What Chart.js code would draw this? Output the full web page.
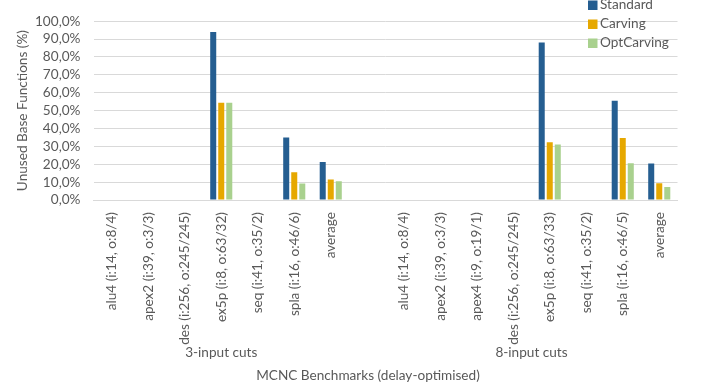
<!DOCTYPE html>
<html>
<head>
<meta charset="utf-8">
<script src="https://cdn.jsdelivr.net/npm/chart.js@4"></script>
<style>
  html, body { margin: 0; padding: 0; background: #fff; }
  #wrap { width: 702px; height: 387px; position: relative; }
</style>
</head>
<body>
<div id="wrap"><canvas id="c" width="702" height="387"></canvas></div>
<script>
// Benchmarks: 3-input cuts group, an empty spacer slot, then the 8-input cuts group
const categories = [
  'alu4 (i:14, o:8/4)', 'apex2 (i:39, o:3/3)', 'des (i:256, o:245/245)', 'ex5p (i:8, o:63/32)',
  'seq (i:41, o:35/2)', 'spla (i:16, o:46/6)', 'average',
  '',
  'alu4 (i:14, o:8/4)', 'apex2 (i:39, o:3/3)', 'apex4 (i:9, o:19/1)', 'des (i:256, o:245/245)',
  'ex5p (i:8, o:63/33)', 'seq (i:41, o:35/2)', 'spla (i:16, o:46/5)', 'average'
];
const groupLabels = ['3-input cuts', '8-input cuts'];
const groupSpans = [[0, 6], [8, 15]];

const standard   = [0, 0, 0, 94.0, 0, 35.0, 21.3, null, 0, 0, 0, 0, 88.0, 0, 55.5, 20.4];
const carving    = [0, 0, 0, 54.4, 0, 15.5, 11.4, null, 0, 0, 0, 0, 32.3, 0, 34.6, 9.4];
const optCarving = [0, 0, 0, 54.4, 0,  9.2, 10.5, null, 0, 0, 0, 0, 31.0, 0, 20.5, 7.2];

const yTicks = [0, 10, 20, 30, 40, 50, 60, 70, 80, 90, 100];

const FONT = 'Lato, "Open Sans", "Liberation Sans", sans-serif';
const FONT_SIZE = 13.6;
const TEXT = '#595959';

const fmtPct = v => v.toFixed(1).replace('.', ',') + '%';

// Legend, group captions and axis titles
const annotations = {
  id: 'annotations',
  afterDraw(chart) {
    const ctx = chart.ctx;
    const x = chart.scales.x;
    const area = chart.chartArea;
    ctx.save();
    ctx.fillStyle = TEXT;
    ctx.font = FONT_SIZE + 'px ' + FONT;
    ctx.textAlign = 'center';
    ctx.textBaseline = 'middle';
    groupSpans.forEach((span, i) => {
      const cx = (x.getPixelForValue(span[0]) + x.getPixelForValue(span[1])) / 2;
      ctx.fillText(groupLabels[i], cx, 353);
    });
    ctx.fillText('MCNC Benchmarks (delay-optimised)', 368, 376);

    ctx.save();
    ctx.translate(23, (area.top + area.bottom) / 2);
    ctx.rotate(-Math.PI / 2);
    ctx.fillText('Unused Base Functions (%)', 0, 0);
    ctx.restore();

    // legend stacked at the top right
    ctx.textAlign = 'left';
    chart.data.datasets.forEach((ds, i) => {
      const cy = 5 + i * 19;
      ctx.fillStyle = ds.backgroundColor;
      ctx.fillRect(588, cy - 4.5, 9.5, 9.5);
      ctx.fillStyle = TEXT;
      ctx.fillText(ds.label, 600, cy);
    });
    ctx.restore();
  }
};

new Chart(document.getElementById('c'), {
  type: 'bar',
  data: {
    labels: categories,
    datasets: [
      { label: 'Standard',   data: standard,   backgroundColor: '#255e91' },
      { label: 'Carving',    data: carving,    backgroundColor: '#e6a800' },
      { label: 'OptCarving', data: optCarving, backgroundColor: '#a9d18e' }
    ]
  },
  options: {
    responsive: false,
    animation: false,
    devicePixelRatio: 1,
    layout: { padding: { left: 0, right: 24.5, top: 15, bottom: 0 } },
    datasets: { bar: { categoryPercentage: 0.66, barPercentage: 0.75 } },
    plugins: { legend: { display: false }, tooltip: { enabled: false } },
    scales: {
      x: {
        grid: { display: false, drawTicks: false },
        border: { display: true, color: '#d9d9d9', width: 1 },
        ticks: {
          autoSkip: false, maxRotation: 90, minRotation: 90, padding: 12,
          color: TEXT, font: { family: FONT, size: FONT_SIZE }
        },
        afterFit(s) { s.height = 187; }
      },
      y: {
        min: 0, max: 100,
        afterBuildTicks(s) { s.ticks = yTicks.map(v => ({ value: v })); },
        grid: { color: '#d9d9d9', drawTicks: false },
        border: { display: false },
        ticks: {
          autoSkip: false, padding: 13, color: TEXT, font: { family: FONT, size: FONT_SIZE },
          callback: v => fmtPct(v)
        },
        afterFit(s) { s.width = 93.5; }
      }
    }
  },
  plugins: [annotations]
});
</script>
</body>
</html>
